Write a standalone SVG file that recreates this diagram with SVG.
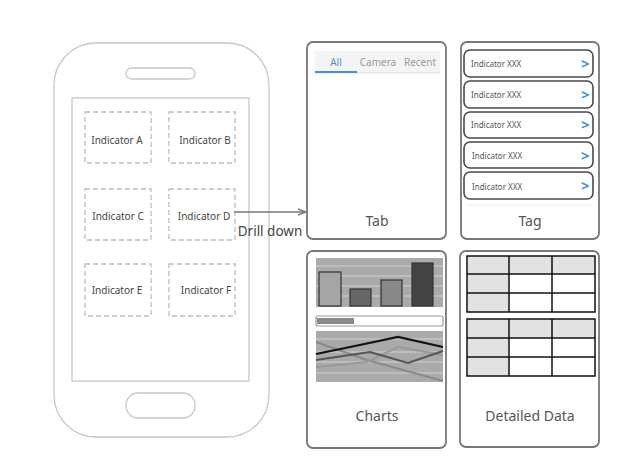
<svg xmlns="http://www.w3.org/2000/svg" width="640" height="465" viewBox="0 0 640 465">
<style>
text{font-family:"Noto Sans","Liberation Sans",Arial,sans-serif;}
.ph{fill:none;stroke:#c8c8c8;stroke-width:1.3}
.ind{fill:none;stroke:#bdbdbd;stroke-width:1.3;stroke-dasharray:5 3}
.il{font-size:10px;fill:#444;text-anchor:middle}
.pan{fill:#fff;stroke:#777;stroke-width:1.8}
.pl{font-size:14px;fill:#555;text-anchor:middle}
.tg{fill:#fff;stroke:#4a4a4a;stroke-width:1.6}
.tt{font-size:8px;fill:#555}
.gt{font-size:15px;fill:#3a8ee6;font-weight:bold}
.tb{fill:none;stroke:#111;stroke-width:1.5}
.hd{fill:#e2e2e2}
.grid{stroke:#cfcfcf;stroke-width:1.2}
</style>
<defs>
<marker id="ah" viewBox="0 0 10 10" refX="9" refY="5" markerWidth="8" markerHeight="8" orient="auto" markerUnits="userSpaceOnUse">
<path d="M0,1 L10,5 L0,9" fill="none" stroke="#777" stroke-width="1.8"/>
</marker>
</defs>
<rect width="640" height="465" fill="#fff"/>
<g id="phone">
<rect class="ph" x="54" y="43" width="215" height="394" rx="42"/>
<rect class="ph" x="126" y="68" width="69" height="11" rx="5.5"/>
<rect class="ph" x="72" y="98" width="177" height="283"/>
<rect class="ph" x="126" y="393" width="69" height="25" rx="12"/>
</g>
<g id="indA"><rect class="ind" x="85" y="112" width="66" height="51"/><text class="il" x="117" y="144">Indicator A</text></g>
<g id="indB"><rect class="ind" x="169" y="112" width="66" height="51"/><text class="il" x="205" y="144">Indicator B</text></g>
<g id="indC"><rect class="ind" x="85" y="189" width="66" height="51"/><text class="il" x="118" y="220">Indicator C</text></g>
<g id="indD"><rect class="ind" x="169" y="189" width="66" height="51"/><text class="il" x="204" y="220">Indicator D</text></g>
<g id="indE"><rect class="ind" x="85" y="264" width="66" height="52"/><text class="il" x="117" y="294">Indicator E</text></g>
<g id="indF"><rect class="ind" x="169" y="264" width="66" height="52"/><text class="il" x="206" y="294">Indicator F</text></g>
<g id="connectors">
<line x1="234" y1="212" x2="305" y2="212" stroke="#777" stroke-width="1.5" marker-end="url(#ah)"/>
<text x="270" y="236" font-size="13.5" fill="#444" text-anchor="middle">Drill down</text>
</g>
<g id="tab">
<rect class="pan" x="307" y="42" width="139" height="197" rx="6"/>
<rect x="315" y="51" width="125" height="22" fill="#f4f4f4"/>
<line x1="315" y1="73" x2="440" y2="73" stroke="#ddd" stroke-width="1"/>
<line x1="315" y1="72" x2="357" y2="72" stroke="#4a90d9" stroke-width="1.8"/>
<text x="336" y="66" font-size="10" fill="#4a90d9" text-anchor="middle">All</text>
<text x="378" y="66" font-size="10" fill="#999" text-anchor="middle">Camera</text>
<text x="420" y="66" font-size="10" fill="#999" text-anchor="middle">Recent</text>
<text class="pl" x="377" y="226">Tab</text>
</g>
<g id="tag">
<rect class="pan" x="461" y="42" width="138" height="197" rx="6"/>
<rect class="tg" x="464" y="50" width="129" height="27" rx="6"/>
<text class="tt" x="471" y="67">Indicator XXX</text><text class="gt" x="581" y="69">&gt;</text>
<rect class="tg" x="464" y="81" width="129" height="27" rx="6"/>
<text class="tt" x="471" y="98">Indicator XXX</text><text class="gt" x="581" y="100">&gt;</text>
<rect class="tg" x="464" y="112" width="129" height="26" rx="6"/>
<text class="tt" x="471" y="128">Indicator XXX</text><text class="gt" x="581" y="130">&gt;</text>
<rect class="tg" x="464" y="142" width="129" height="26" rx="6"/>
<text class="tt" x="472" y="159">Indicator XXX</text><text class="gt" x="581" y="161">&gt;</text>
<rect class="tg" x="464" y="172" width="129" height="27" rx="6"/>
<text class="tt" x="472" y="190">Indicator XXX</text><text class="gt" x="581" y="191">&gt;</text>
<line x1="466" y1="205" x2="594" y2="205" stroke="#eee" stroke-width="1"/>
<text class="pl" x="530" y="226">Tag</text>
</g>
<g id="charts">
<rect class="pan" x="307" y="251" width="139" height="197" rx="6"/>
<rect x="316" y="258" width="127" height="49" fill="#aaa"/>
<line class="grid" x1="316" y1="266" x2="443" y2="266"/>
<line class="grid" x1="316" y1="276" x2="443" y2="276"/>
<line class="grid" x1="316" y1="286" x2="443" y2="286"/>
<line class="grid" x1="316" y1="296" x2="443" y2="296"/>
<rect x="319" y="272" width="22" height="34" fill="#a5a5a5" stroke="#333" stroke-width="1.2"/>
<rect x="350" y="289" width="21" height="17" fill="#666" stroke="#333" stroke-width="1.2"/>
<rect x="381" y="280" width="21" height="26" fill="#888" stroke="#333" stroke-width="1.2"/>
<rect x="412" y="263" width="21" height="43" fill="#444" stroke="#333" stroke-width="1.2"/>
<rect x="316" y="316" width="127" height="10" rx="2" fill="#fff" stroke="#999" stroke-width="1.2"/>
<rect x="317" y="318" width="37" height="6" fill="#8a8a8a"/>
<rect x="316" y="331" width="127" height="51" fill="#aaa"/>
<line class="grid" x1="316" y1="339" x2="443" y2="339"/>
<line class="grid" x1="316" y1="352" x2="443" y2="352"/>
<line class="grid" x1="316" y1="362" x2="443" y2="362"/>
<line class="grid" x1="316" y1="373" x2="443" y2="373"/>
<polyline points="316,342 367,360 443,381" fill="none" stroke="#8a8a8a" stroke-width="2"/>
<polyline points="316,367 367,362 398,347 443,355" fill="none" stroke="#999" stroke-width="2"/>
<polyline points="316,360 370,352 408,363 443,351" fill="none" stroke="#555" stroke-width="2"/>
<polyline points="316,354 355,346 398,337 443,347" fill="none" stroke="#111" stroke-width="2.2"/>
<text class="pl" x="377" y="421">Charts</text>
</g>
<g id="detailed">
<rect class="pan" x="460" y="251" width="139" height="196" rx="6"/>
<rect class="hd" x="467" y="256" width="128" height="18"/>
<rect class="hd" x="467" y="274" width="42" height="38"/>
<rect class="tb" x="467" y="256" width="128" height="56"/>
<line class="tb" x1="509" y1="256" x2="509" y2="312"/>
<line class="tb" x1="552" y1="256" x2="552" y2="312"/>
<line class="tb" x1="467" y1="274" x2="595" y2="274"/>
<line class="tb" x1="467" y1="293" x2="595" y2="293"/>
<rect class="hd" x="467" y="319" width="128" height="19"/>
<rect class="hd" x="467" y="338" width="42" height="38"/>
<rect class="tb" x="467" y="319" width="128" height="57"/>
<line class="tb" x1="509" y1="319" x2="509" y2="376"/>
<line class="tb" x1="552" y1="319" x2="552" y2="376"/>
<line class="tb" x1="467" y1="338" x2="595" y2="338"/>
<line class="tb" x1="467" y1="357" x2="595" y2="357"/>
<text class="pl" x="530" y="421">Detailed Data</text>
</g>
</svg>
